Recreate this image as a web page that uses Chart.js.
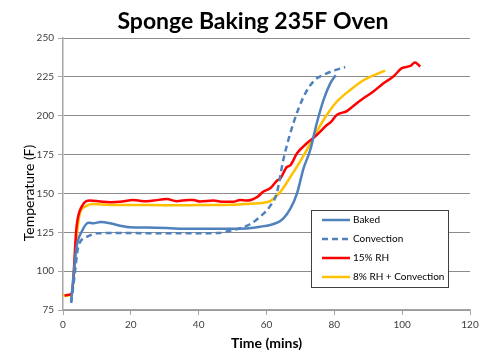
<!DOCTYPE html>
<html>
<head>
<meta charset="utf-8">
<script src="https://cdn.jsdelivr.net/npm/chart.js@4.4.1/dist/chart.umd.min.js"></script>
<style>
  html, body { margin: 0; padding: 0; background: #fff; }
  #wrap { width: 500px; height: 352px; }
</style>
</head>
<body>
<div id="wrap"><canvas id="chart" width="500" height="352"></canvas></div>
<script>
// series names
const seriesNames = ['Baked', 'Convection', '15% RH', '8% RH + Convection'];

// time (mins) / temperature (F)
const bakedTime = [2.4, 3, 4, 5.5, 7.5, 9, 11, 13.9, 16.8, 19.8, 24.7, 30.6, 37, 45, 54.2, 58.1, 61.1, 63, 65, 67, 69, 70.9, 72.9, 74.8, 76.8, 78.8, 80.4];
const bakedTemp = [80.4, 95, 115.7, 125.4, 131.2, 130.8, 131.6, 130.8, 129.2, 128.2, 128, 127.7, 127.2, 127.3, 127.5, 128.6, 129.7, 131, 134, 140, 150, 166, 178, 195, 210, 220.8, 226];

const convTime = [2.4, 3.3, 4.5, 7, 10, 13.9, 20, 30, 40, 46, 49.2, 52.2, 55, 58.1, 61.1, 63, 65, 67.9, 70.9, 73.8, 76.8, 79.7, 83.2];
const convTemp = [79.5, 95, 115.7, 122, 124.3, 124.5, 124.5, 124.3, 124.4, 124.6, 126, 127.6, 130, 135, 142, 150, 172, 195, 212, 222, 226.3, 228.9, 231.3];

const rhTime = [0.5, 1.1, 2.6, 4, 5.5, 8, 11, 13.9, 16.8, 20.7, 23.7, 26.6, 30.6, 33.5, 37, 38.4, 40.4, 44.3, 47.3, 50.2, 52.2, 54.2, 57.2, 59.1, 61.1, 63, 64.1, 66, 67, 69, 71.9, 74.8, 77.8, 79, 80.7, 83.7, 86.6, 88.6, 91.5, 94.5, 97.4, 99.9, 102.4, 103.8, 104.5, 105.3];
const rhTemp = [84.2, 84.6, 85.7, 128.6, 141.5, 145.4, 144.8, 144.4, 144.6, 145.8, 145, 145.4, 146.4, 145, 145.8, 145.8, 144.8, 145.4, 144.6, 144.6, 145.8, 145.4, 147.6, 151.2, 153.3, 158, 159.7, 167, 168, 175.8, 182.3, 187.6, 194, 196, 200.5, 203, 208, 211.2, 215.5, 220.9, 225.2, 230.6, 232, 234.2, 233.3, 231.6];

const rh8Time = [0, 1.1, 2.6, 4, 5, 6.5, 9, 13.9, 20, 30, 40, 50, 55.2, 59.1, 61.1, 63, 64.1, 66, 67, 69, 71.9, 74.8, 77.8, 80.7, 84.7, 88.6, 90.6, 95];
const rh8Temp = [84.5, 84.2, 85, 122, 137.4, 141.5, 143.2, 142.6, 142.6, 142.4, 142.5, 142.7, 143.4, 144, 145.1, 148.5, 151, 157, 160.5, 167.2, 178, 189.8, 200.6, 209, 216.6, 222.8, 225, 229];

const xTicks = [0, 20, 40, 60, 80, 100, 120];
const yTicks = [75, 100, 125, 150, 175, 200, 225, 250];

const colors = ['#4f81bd', '#4f81bd', '#ff0000', '#ffc000'];
const dashes = [[], [6, 4], [], []];

function toPoints(xs, ys) {
  return xs.map((x, i) => ({ x: x, y: ys[i] }));
}

const seriesData = [
  toPoints(bakedTime, bakedTemp),
  toPoints(convTime, convTemp),
  toPoints(rhTime, rhTemp),
  toPoints(rh8Time, rh8Temp)
];

const datasets = seriesNames.map((name, i) => ({
  label: name,
  data: seriesData[i],
  borderColor: colors[i],
  backgroundColor: colors[i],
  borderWidth: 2.5,
  borderDash: dashes[i],
  pointRadius: 0,
  cubicInterpolationMode: 'monotone',
  fill: false
}));

const fontFam = 'Lato, "Open Sans", sans-serif';

// title, rotated y title and legend box inside the plot, drawn by hand
const extras = {
  id: 'extras',
  afterDraw(chart) {
    const ctx = chart.ctx;
    ctx.save();

    ctx.fillStyle = '#000';
    ctx.textAlign = 'center';
    ctx.textBaseline = 'middle';
    ctx.font = 'bold 23px ' + fontFam;
    ctx.fillText('Sponge Baking 235F Oven', 253, 22);

    ctx.font = '14px ' + fontFam;
    ctx.translate(29, 193);
    ctx.rotate(-Math.PI / 2);
    ctx.fillText('Temperature (F)', 0, 0);
    ctx.setTransform(1, 0, 0, 1, 0, 0);

    // legend
    const bx = 311, by = 210, bw = 137, bh = 77;
    ctx.fillStyle = '#fff';
    ctx.fillRect(bx, by, bw, bh);
    ctx.strokeStyle = '#404040';
    ctx.lineWidth = 1;
    ctx.strokeRect(bx + 0.5, by + 0.5, bw, bh);
    ctx.font = '10px ' + fontFam;
    ctx.textAlign = 'left';
    const rows = [220, 239, 258, 277];
    chart.data.datasets.forEach((ds, i) => {
      const y = rows[i];
      ctx.strokeStyle = ds.borderColor;
      ctx.lineWidth = 2.5;
      ctx.setLineDash(ds.borderDash);
      ctx.beginPath();
      ctx.moveTo(322, y);
      ctx.lineTo(350, y);
      ctx.stroke();
      ctx.setLineDash([]);
      ctx.fillStyle = '#000';
      ctx.fillText(ds.label, 353, y);
    });
    ctx.restore();
  }
};

new Chart(document.getElementById('chart'), {
  type: 'line',
  data: { datasets: datasets },
  plugins: [extras],
  options: {
    responsive: false,
    animation: false,
    layout: { padding: { left: 0, right: 30, top: 38, bottom: 0 } },
    plugins: {
      legend: { display: false },
      tooltip: { enabled: false },
      title: { display: false }
    },
    scales: {
      x: {
        type: 'linear',
        min: 0,
        max: 120,
        afterBuildTicks: s => { s.ticks = xTicks.map(v => ({ value: v })); },
        afterFit: s => { s.height = 42; },
        ticks: { color: '#404040', font: { family: fontFam, size: 10 }, padding: 4, maxRotation: 0 },
        grid: { drawOnChartArea: false, tickLength: 5, tickColor: '#a6a6a6' },
        border: { color: '#a6a6a6', width: 1.5 },
        title: {
          display: true,
          text: 'Time (mins)',
          color: '#000',
          font: { family: fontFam, size: 14, weight: 'bold' },
          padding: { top: 2, bottom: 0 }
        }
      },
      y: {
        min: 75,
        max: 250,
        afterBuildTicks: s => { s.ticks = yTicks.map(v => ({ value: v })); },
        afterFit: s => { s.width = 63; },
        ticks: { color: '#404040', font: { family: fontFam, size: 10 }, padding: 4 },
        grid: { color: '#8c8c8c', tickLength: 5, tickColor: '#a6a6a6' },
        border: { color: '#a6a6a6', width: 1.5 }
      }
    }
  }
});
</script>
</body>
</html>
